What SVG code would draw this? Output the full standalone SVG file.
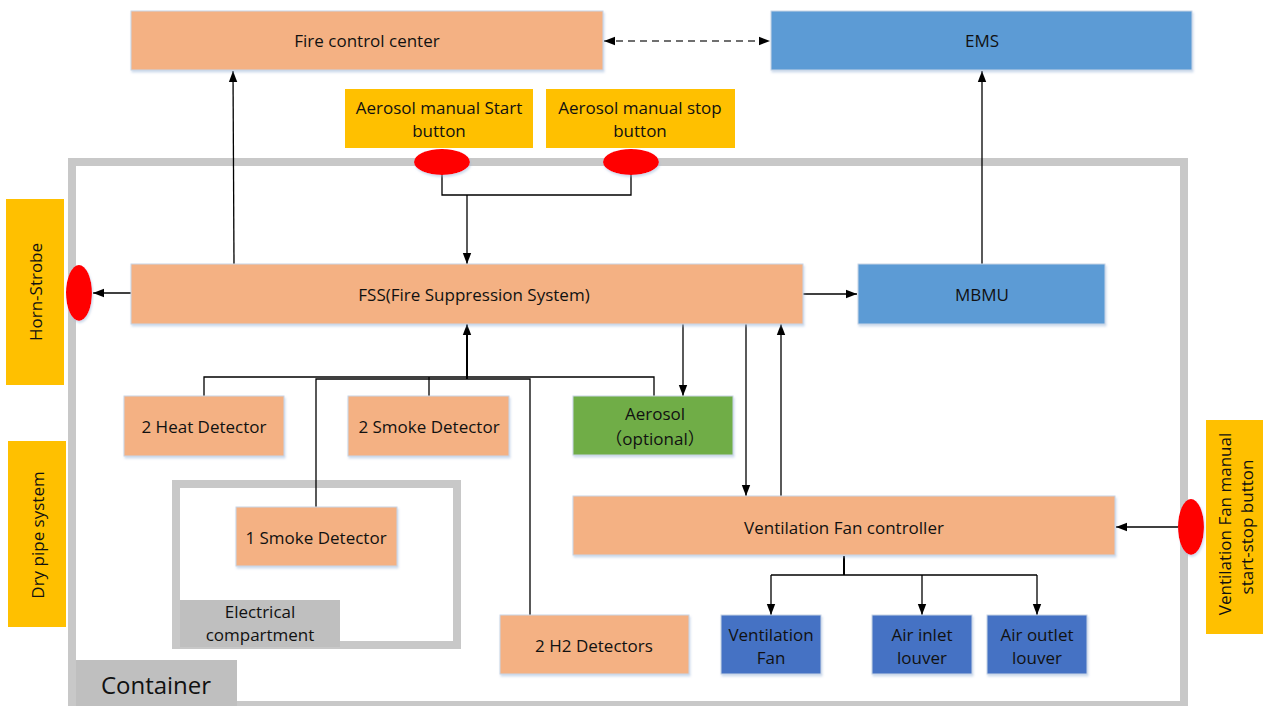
<svg xmlns="http://www.w3.org/2000/svg" width="1263" height="706" viewBox="0 0 1263 706">
<defs>
<marker id="ah" viewBox="0 0 11 10" refX="11" refY="5" markerWidth="11" markerHeight="10" markerUnits="userSpaceOnUse" orient="auto-start-reverse">
<path d="M0,0.8 L11,5 L0,9.2 Z" fill="#000"/>
</marker>
<filter id="sh" x="-5%" y="-10%" width="110%" height="130%">
<feDropShadow dx="1" dy="2" stdDeviation="1.2" flood-color="#9DB8DA" flood-opacity="0.5"/>
</filter>
</defs>
<style>
text{font-family:"Open Sans","Liberation Sans",Arial,"Noto Sans CJK SC",sans-serif;font-size:17px;fill:#111;text-anchor:middle;dominant-baseline:central}
.or{fill:#F4B183;stroke:#C9D5E6;stroke-width:1;filter:url(#sh)}
.bl{fill:#5B9BD5;stroke:#C9D5E6;stroke-width:1;filter:url(#sh)}
.db{fill:#4472C4;stroke:#C9D5E6;stroke-width:1;filter:url(#sh)}
.gr{fill:#70AD47;stroke:#C9D5E6;stroke-width:1;filter:url(#sh)}
.ye{fill:#FFC000}
.gy{fill:#BFBFBF}
.frame{fill:none;stroke:#C8C8C8;stroke-width:8}
.red{fill:#FF0000;filter:url(#sh)}
.ln{fill:none;stroke:#000;stroke-width:1.3}
.ar{fill:none;stroke:#000;stroke-width:1.3;marker-end:url(#ah)}
</style>
<rect width="1263" height="706" fill="#fff"/>
<g id="container">
<rect class="frame" x="72" y="162" width="1112" height="543"/>
<rect class="gy" x="76" y="660" width="161" height="46"/>
<text x="156" y="684" style="font-size:24px">Container</text>
</g>
<g id="electrical-compartment">
<rect class="frame" x="176" y="484" width="281" height="161"/>
<rect class="gy" x="180" y="600" width="160" height="47"/>
<text x="260" y="611">Electrical</text>
<text x="260" y="634">compartment</text>
</g>
<g id="connectors">
<line class="ar" x1="604" y1="41" x2="770" y2="41" stroke-dasharray="7,5" style="stroke:#404040;marker-start:url(#ah)"/>
<polyline class="ln" points="442,175 442,195 631,195 631,175"/>
<line class="ar" x1="467" y1="195" x2="467" y2="264"/>
<line class="ar" x1="234" y1="264" x2="233" y2="71"/>
<line class="ar" x1="131" y1="293" x2="93" y2="293"/>
<line class="ar" x1="803" y1="294" x2="857" y2="294"/>
<line class="ar" x1="982" y1="264" x2="982" y2="71"/>
<polyline class="ln" points="204,396 204,377 654,377 654,396"/>
<line class="ln" x1="429" y1="377" x2="429" y2="396"/>
<polyline class="ln" points="316,507 316,379 530,379 530,615"/>
<line class="ar" x1="467" y1="379" x2="467" y2="324" style="stroke-width:2"/>
<line class="ar" x1="683" y1="324" x2="683" y2="396"/>
<line class="ar" x1="746" y1="324" x2="746" y2="496"/>
<line class="ar" x1="781" y1="496" x2="781" y2="324"/>
<line class="ar" x1="1178" y1="527" x2="1116" y2="527"/>
<line class="ln" x1="844" y1="556" x2="844" y2="575" style="stroke-width:2"/>
<polyline class="ln" points="771,575 1037,575"/>
<line class="ar" x1="771" y1="575" x2="771" y2="615"/>
<line class="ar" x1="922" y1="575" x2="922" y2="615"/>
<line class="ar" x1="1037" y1="575" x2="1037" y2="615"/>
</g>
<g id="fire-control-center">
<rect class="or" x="131" y="11" width="472" height="59"/>
<text x="367" y="40">Fire control center</text>
</g>
<g id="ems">
<rect class="bl" x="771" y="11" width="421" height="59"/>
<text x="982" y="40">EMS</text>
</g>
<g id="aerosol-start-button">
<rect class="ye" x="345" y="89" width="188" height="59"/>
<text x="439" y="107">Aerosol manual Start</text>
<text x="439" y="130">button</text>
<ellipse class="red" cx="442" cy="162" rx="28" ry="13"/>
</g>
<g id="aerosol-stop-button">
<rect class="ye" x="546" y="89" width="189" height="59"/>
<text x="640" y="107">Aerosol manual stop</text>
<text x="640" y="130">button</text>
<ellipse class="red" cx="631" cy="162" rx="28" ry="13"/>
</g>
<g id="horn-strobe">
<rect class="ye" x="6" y="199" width="58" height="186"/>
<text transform="translate(35,292) rotate(-90)">Horn-Strobe</text>
<ellipse class="red" cx="79" cy="293" rx="13" ry="28"/>
</g>
<g id="dry-pipe-system">
<rect class="ye" x="8" y="441" width="58" height="186"/>
<text transform="translate(37,535) rotate(-90)">Dry pipe system</text>
</g>
<g id="fss">
<rect class="or" x="131" y="264" width="672" height="60"/>
<text x="474" y="294">FSS(Fire Suppression System)</text>
</g>
<g id="mbmu">
<rect class="bl" x="858" y="264" width="247" height="60"/>
<text x="982" y="294">MBMU</text>
</g>
<g id="heat-detector">
<rect class="or" x="124" y="396" width="160" height="60"/>
<text x="204" y="426">2 Heat Detector</text>
</g>
<g id="smoke-detector-2">
<rect class="or" x="348" y="396" width="161" height="60"/>
<text x="429" y="426">2 Smoke Detector</text>
</g>
<g id="aerosol">
<rect class="gr" x="573" y="396" width="160" height="59"/>
<text x="655" y="413">Aerosol</text>
<text x="655" y="438">（optional）</text>
</g>
<g id="smoke-detector-1">
<rect class="or" x="236" y="507" width="161" height="59"/>
<text x="316" y="537">1 Smoke Detector</text>
</g>
<g id="h2-detectors">
<rect class="or" x="500" y="615" width="189" height="59"/>
<text x="594" y="645">2 H2 Detectors</text>
</g>
<g id="ventilation-fan-controller">
<rect class="or" x="573" y="496" width="542" height="59"/>
<text x="844" y="527">Ventilation Fan controller</text>
</g>
<g id="ventilation-fan-button">
<rect class="ye" x="1206" y="420" width="57" height="214"/>
<text transform="translate(1224,524) rotate(-90)">Ventilation Fan manual</text>
<text transform="translate(1246,527) rotate(-90)">start-stop button</text>
<ellipse class="red" cx="1191" cy="527" rx="13" ry="28"/>
</g>
<g id="ventilation-fan">
<rect class="db" x="721" y="615" width="100" height="59"/>
<text x="771" y="634">Ventilation</text>
<text x="771" y="657">Fan</text>
</g>
<g id="air-inlet-louver">
<rect class="db" x="872" y="615" width="100" height="59"/>
<text x="922" y="634">Air inlet</text>
<text x="922" y="657">louver</text>
</g>
<g id="air-outlet-louver">
<rect class="db" x="987" y="615" width="100" height="59"/>
<text x="1037" y="634">Air outlet</text>
<text x="1037" y="657">louver</text>
</g>
</svg>
